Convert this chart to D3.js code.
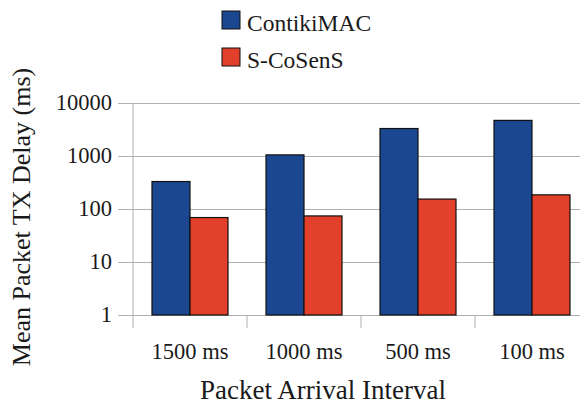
<!DOCTYPE html>
<html>
<head>
<meta charset="utf-8">
<script src="https://cdn.jsdelivr.net/npm/d3@7"></script>
<style>
  body { margin: 0; background: #fff; }
  svg text { font-family: "Liberation Serif", "DejaVu Serif", serif; fill: #1a1a1a; }
</style>
</head>
<body>
<svg id="chart" width="580" height="405"></svg>
<script>
// data
const categories = ["1500 ms", "1000 ms", "500 ms", "100 ms"];
const seriesNames = ["ContikiMAC", "S-CoSenS"];
const contikiMAC = [330, 1050, 3300, 4700];
const sCoSenS = [69, 74, 154, 185];
const yTicks = [1, 10, 100, 1000, 10000];
const colors = ["#1b4690", "#e2402a"];

const svg = d3.select("#chart");
const plotLeft = 133, plotRight = 589, plotTop = 103, plotBottom = 315;

let x = d3.scaleBand().domain(categories).range([plotLeft, plotRight]);
let xInner = d3.scaleBand()
  .domain(seriesNames)
  .range([0, x.bandwidth()])
  .paddingOuter(0.5)
  .paddingInner(0);
let y = d3.scaleLog().domain([1, 10000]).range([plotBottom, plotTop]);

// gridlines + y axis
let yAxis = d3.axisLeft(y)
  .tickValues(yTicks)
  .tickFormat(d3.format("d"))
  .tickSize(-(580 - plotLeft));
let gy = svg.append("g").attr("transform", `translate(${plotLeft},0)`).call(yAxis);
gy.select(".domain").remove();
gy.selectAll(".tick line").attr("stroke", "#b0b0b0").attr("x1", -15);
gy.selectAll(".tick text")
  .attr("x", -21)
  .attr("dy", "0.3em")
  .style("font-size", "22.5px");

// y axis line
svg.append("line")
  .attr("x1", plotLeft).attr("x2", plotLeft)
  .attr("y1", plotTop).attr("y2", plotBottom + 13)
  .attr("stroke", "#b0b0b0");

// category separators below axis
let seps = x.domain().slice(1).map(c => x(c));
svg.selectAll("line.sep").data(seps).enter().append("line")
  .attr("class", "sep")
  .attr("x1", d => d).attr("x2", d => d)
  .attr("y1", plotBottom).attr("y2", plotBottom + 13)
  .attr("stroke", "#b0b0b0");

// bars
let rows = categories.map((c, i) => ({ cat: c, values: [contikiMAC[i], sCoSenS[i]] }));
let groups = svg.selectAll("g.grp").data(rows).enter().append("g")
  .attr("class", "grp")
  .attr("transform", d => `translate(${x(d.cat)},0)`);
groups.selectAll("rect")
  .data(d => d.values.map((v, j) => ({ name: seriesNames[j], v: v, j: j })))
  .enter().append("rect")
  .attr("x", d => xInner(d.name))
  .attr("width", xInner.bandwidth())
  .attr("y", d => y(d.v))
  .attr("height", d => plotBottom - y(d.v))
  .attr("fill", d => colors[d.j])
  .attr("stroke", "#111")
  .attr("stroke-width", 1.2);

// category labels
svg.selectAll("text.cat").data(categories).enter().append("text")
  .attr("class", "cat")
  .attr("x", d => x(d) + x.bandwidth() / 2)
  .attr("y", 359)
  .attr("text-anchor", "middle")
  .style("font-size", "22.5px")
  .text(d => d);

// axis titles
svg.append("text")
  .attr("x", 323).attr("y", 399)
  .attr("text-anchor", "middle")
  .style("font-size", "27px")
  .text("Packet Arrival Interval");
svg.append("text")
  .attr("transform", "translate(30,217) rotate(-90)")
  .attr("text-anchor", "middle")
  .style("font-size", "26px")
  .text("Mean Packet TX Delay (ms)");

// legend
let legend = svg.selectAll("g.leg").data(seriesNames).enter().append("g")
  .attr("class", "leg")
  .attr("transform", (d, i) => `translate(222,${11 + i * 37})`);
legend.append("rect")
  .attr("width", 18).attr("height", 18)
  .attr("fill", (d, i) => colors[i])
  .attr("stroke", "#111");
legend.append("text")
  .attr("x", 25).attr("y", 19.5)
  .style("font-size", "23.5px")
  .text(d => d);
</script>
</body>
</html>
